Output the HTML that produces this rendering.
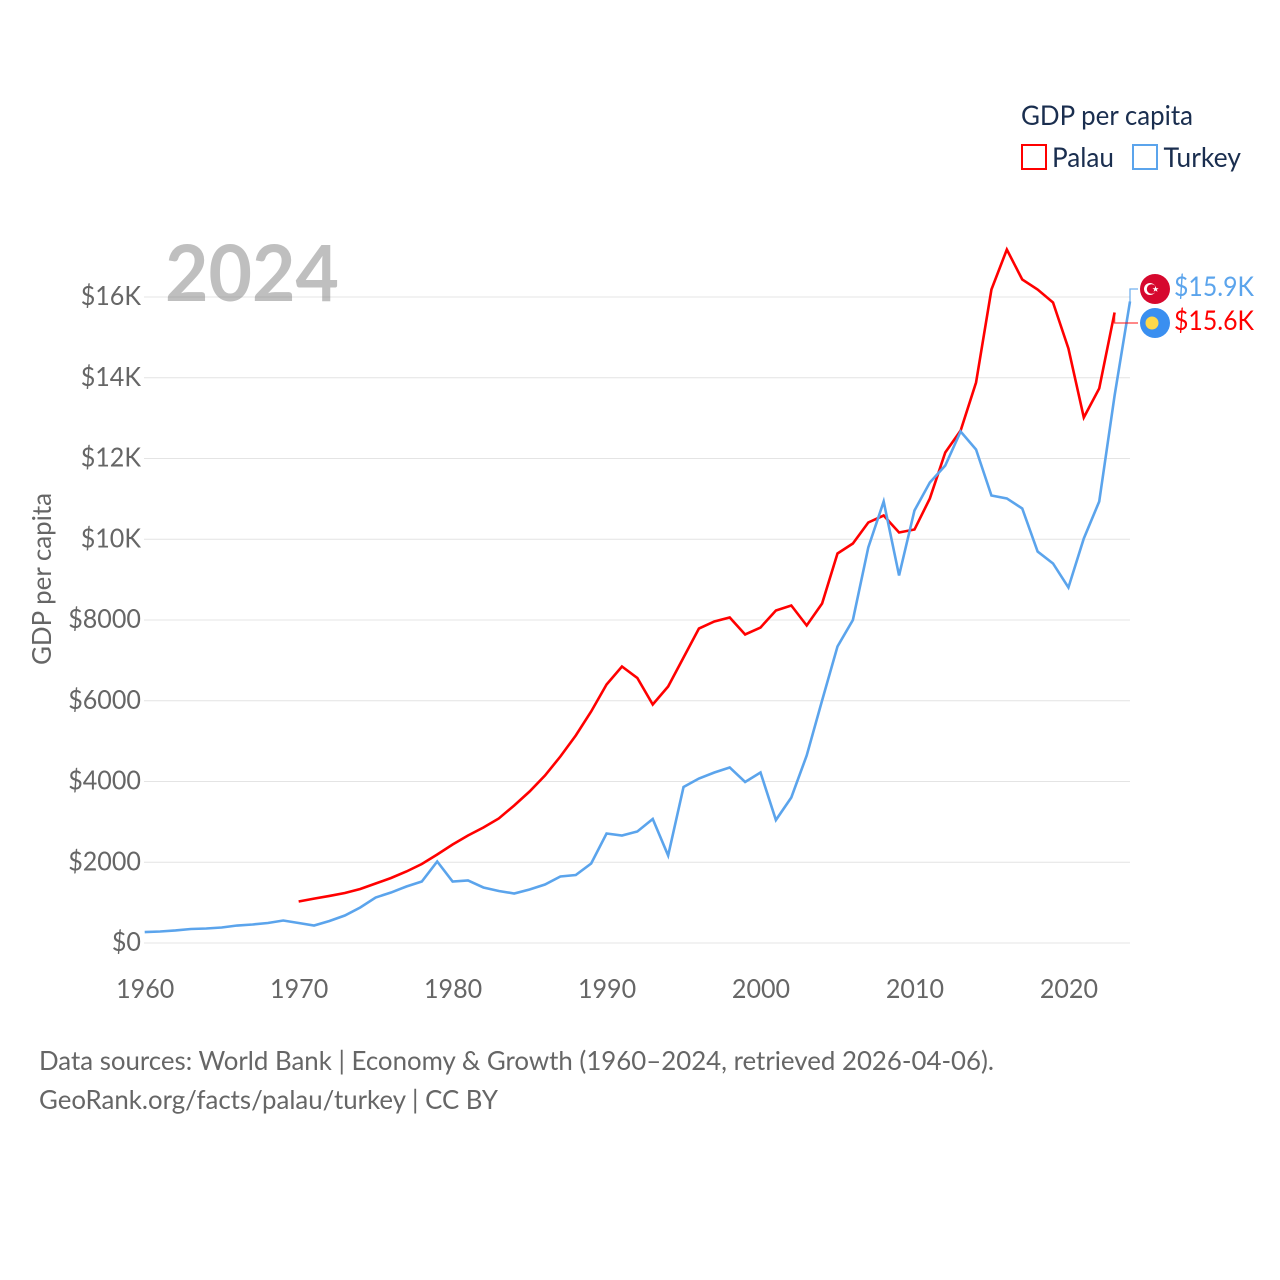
<!DOCTYPE html>
<html lang="en">
<head>
<meta charset="utf-8">
<title>GDP per capita: Palau and Turkey</title>
<style>
html,body{margin:0;padding:0;background:#fff;}
#chart{display:block;width:1280px;height:1280px;font-family:"Lato","Carlito","Liberation Sans",sans-serif;}
.tick{font-size:26px;fill:#666;}
.foot{font-size:26px;fill:#666;}
.leg{font-size:27px;fill:#1a2e4f;}
</style>
</head>
<body>
<svg id="chart" xmlns="http://www.w3.org/2000/svg" width="1280" height="1280" viewBox="0 0 1280 1280">
  <rect x="0" y="0" width="1280" height="1280" fill="#fff"/>
  <g id="grid"></g>
  <text x="165" y="301" font-size="78" font-weight="700" fill="rgba(128,128,128,0.5)" textLength="174" lengthAdjust="spacingAndGlyphs">2024</text>
  <g id="yticks"></g>
  <g id="xticks"></g>
  <text class="tick" text-anchor="middle" transform="translate(51 579) rotate(-90)" textLength="172" lengthAdjust="spacingAndGlyphs">GDP per capita</text>
  <g id="series"></g>
  <g id="connectors"></g>

  <g>
    <circle cx="1155" cy="289" r="15" fill="#d6082e"/>
    <circle cx="1150" cy="289" r="6" fill="#fff"/>
    <circle cx="1151.6" cy="289" r="4.8" fill="#d6082e"/>
    <polygon points="1155.5,286 1156.3,288.2 1158.6,288.2 1156.8,289.6 1157.5,291.8 1155.5,290.5 1153.6,291.8 1154.3,289.6 1152.5,288.2 1154.8,288.2" fill="#fff"/>
  </g>
  <g>
    <circle cx="1155" cy="323" r="15" fill="#3a8ff0"/>
    <circle cx="1152" cy="323" r="6.5" fill="#ffd84a"/>
  </g>
  <text x="1174" y="296" font-size="27" fill="#5ba4ec" textLength="80" lengthAdjust="spacingAndGlyphs">$15.9K</text>
  <text x="1174" y="330" font-size="27" fill="#ff0000" textLength="80" lengthAdjust="spacingAndGlyphs">$15.6K</text>

  <g>
    <text class="leg" x="1021" y="125" textLength="172" lengthAdjust="spacingAndGlyphs">GDP per capita</text>
    <rect x="1022" y="145" width="24" height="24" fill="#fff" stroke="#ff0000" stroke-width="2"/>
    <text class="leg" x="1052" y="167" textLength="62" lengthAdjust="spacingAndGlyphs">Palau</text>
    <rect x="1133" y="145" width="24" height="24" fill="#fff" stroke="#5ba4ec" stroke-width="2"/>
    <text class="leg" x="1163.5" y="167" textLength="77.5" lengthAdjust="spacingAndGlyphs">Turkey</text>
  </g>

  <text class="foot" x="39" y="1070" textLength="955" lengthAdjust="spacingAndGlyphs">Data sources: World Bank | Economy &amp; Growth (1960–2024, retrieved 2026-04-06).</text>
  <text class="foot" x="39" y="1109" textLength="459" lengthAdjust="spacingAndGlyphs">GeoRank.org/facts/palau/turkey | CC BY</text>
</svg>
<script>
const firstYear = 1960;
const lastYear = 2024;
const xTickValues = [1960, 1970, 1980, 1990, 2000, 2010, 2020];
const yTickValues = [0, 2000, 4000, 6000, 8000, 10000, 12000, 14000, 16000];
const yTickLabels = ["$0", "$2000", "$4000", "$6000", "$8000", "$10K", "$12K", "$14K", "$16K"];

const turkeyStartYear = 1960;
const turkeyValues = [272, 285, 310, 347, 359, 384, 433, 458, 495, 557,
  495, 433, 545, 681, 879, 1127, 1250, 1400, 1523, 2019,
  1523, 1548, 1375, 1288, 1226, 1325, 1449, 1647, 1684, 1969,
  2712, 2662, 2762, 3071, 2167, 3864, 4074, 4223, 4347, 3988,
  4223, 3046, 3604, 4644, 6006, 7344, 8000, 9796, 10935, 9102,
  10712, 11406, 11827, 12669, 12223, 11084, 11010, 10762, 9696, 9400,
  8805, 10019, 10935, 13560, 15890];

const palauStartYear = 1970;
const palauValues = [1028, 1100, 1165, 1238, 1337, 1474, 1610, 1771, 1957, 2192,
  2440, 2662, 2860, 3084, 3406, 3752, 4148, 4619, 5139, 5734,
  6402, 6848, 6563, 5907, 6353, 7071, 7789, 7963, 8062, 7641,
  7814, 8235, 8359, 7864, 8409, 9647, 9895, 10415, 10588, 10167,
  10241, 11010, 12149, 12694, 13882, 16185, 17176, 16433, 16185, 15864,
  14724, 13015, 13734, 15616];

function xScale(year) { return 144.7 + (year - firstYear) * (1130 - 144.7) / (lastYear - firstYear); }
function yScale(value) { return 943 - value * (943 - 297) / 16000; }

const NS = "http://www.w3.org/2000/svg";
const gridGroup = document.getElementById("grid");
const yTickGroup = document.getElementById("yticks");
const xTickGroup = document.getElementById("xticks");
const seriesGroup = document.getElementById("series");
const connectorGroup = document.getElementById("connectors");
const digitSqueeze = 0.965;

yTickValues.forEach(function (v, i) {
  const line = document.createElementNS(NS, "line");
  
  
  line.setAttribute("x1", 144);
  line.setAttribute("x2", 1130);
  line.setAttribute("y1", yScale(v));
  line.setAttribute("y2", yScale(v));
  line.setAttribute("stroke", "#e4e4e4");
  line.setAttribute("stroke-width", 1);
  gridGroup.appendChild(line);

  const label = document.createElementNS(NS, "text");
  
  
  label.setAttribute("class", "tick");
  label.setAttribute("x", 141);
  label.setAttribute("y", yScale(v) + 8);
  label.setAttribute("text-anchor", "end");
  label.textContent = yTickLabels[i];
  yTickGroup.appendChild(label);
  label.setAttribute("textLength", (label.getComputedTextLength() * digitSqueeze).toFixed(1));
  label.setAttribute("lengthAdjust", "spacingAndGlyphs");
});

xTickValues.forEach(function (year) {
  const label = document.createElementNS(NS, "text");
  
  
  label.setAttribute("class", "tick");
  label.setAttribute("x", xScale(year) + 0.5);
  label.setAttribute("y", 998);
  label.setAttribute("text-anchor", "middle");
  label.textContent = year;
  xTickGroup.appendChild(label);
  label.setAttribute("textLength", (label.getComputedTextLength() * digitSqueeze).toFixed(1));
  label.setAttribute("lengthAdjust", "spacingAndGlyphs");
});

function linePath(startYear, values) {
  return values.map(function (v, i) {
    return (i === 0 ? "M" : "L") + xScale(startYear + i).toFixed(2) + " " + yScale(v).toFixed(2);
  }).join(" ");
}

const palauLine = document.createElementNS(NS, "path");


palauLine.setAttribute("d", linePath(palauStartYear, palauValues));
palauLine.setAttribute("fill", "none");
palauLine.setAttribute("stroke", "#ff0000");
palauLine.setAttribute("stroke-width", 2.6);
palauLine.setAttribute("stroke-linejoin", "miter");
seriesGroup.appendChild(palauLine);

const turkeyLine = document.createElementNS(NS, "path");


turkeyLine.setAttribute("d", linePath(turkeyStartYear, turkeyValues));
turkeyLine.setAttribute("fill", "none");
turkeyLine.setAttribute("stroke", "#5ba4ec");
turkeyLine.setAttribute("stroke-width", 2.6);
turkeyLine.setAttribute("stroke-linejoin", "miter");
seriesGroup.appendChild(turkeyLine);

const turkeyEndX = xScale(turkeyStartYear + turkeyValues.length - 1);
const turkeyEndY = yScale(turkeyValues[turkeyValues.length - 1]);
const turkeyConnector = document.createElementNS(NS, "path");


turkeyConnector.setAttribute("d", "M" + turkeyEndX + " " + turkeyEndY + " L" + turkeyEndX + " 289 L1138 289");
turkeyConnector.setAttribute("fill", "none");
turkeyConnector.setAttribute("stroke", "#5ba4ec");
turkeyConnector.setAttribute("stroke-opacity", 0.85);
turkeyConnector.setAttribute("stroke-width", 1.3);
connectorGroup.appendChild(turkeyConnector);

const palauEndX = xScale(palauStartYear + palauValues.length - 1);
const palauEndY = yScale(palauValues[palauValues.length - 1]);
const palauConnector = document.createElementNS(NS, "path");


palauConnector.setAttribute("d", "M" + palauEndX + " " + palauEndY + " L" + palauEndX + " 323 L1138 323");
palauConnector.setAttribute("fill", "none");
palauConnector.setAttribute("stroke", "#ff0000");
palauConnector.setAttribute("stroke-opacity", 0.75);
palauConnector.setAttribute("stroke-width", 1.3);
connectorGroup.appendChild(palauConnector);
</script>
</body>
</html>
